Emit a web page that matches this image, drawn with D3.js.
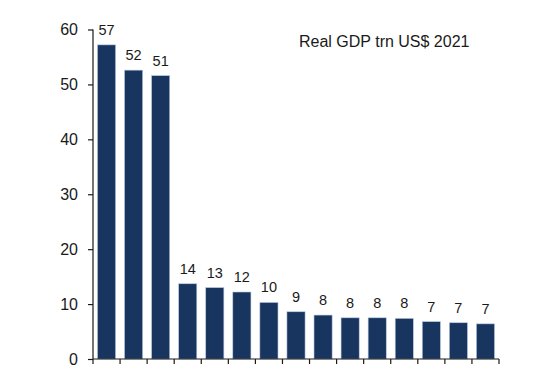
<!DOCTYPE html>
<html><head><meta charset="utf-8">
<script src="https://cdn.jsdelivr.net/npm/d3@7"></script>
<style>body{margin:0;background:#fff}svg{display:block}text{font-family:"Liberation Sans",Arial,sans-serif;fill:#1a1a1a}</style>
</head><body><svg id="c" width="555" height="370"></svg>
<script>
const categories = ["c1","c2","c3","c4","c5","c6","c7","c8","c9","c10","c11","c12","c13","c14","c15"];
const values = [57.2,52.6,51.6,13.7,13.0,12.2,10.3,8.6,8.0,7.5,7.5,7.4,6.8,6.6,6.4];
const labels = ["57","52","51","14","13","12","10","9","8","8","8","8","7","7","7"];
const yTicks = [0,10,20,30,40,50,60];
const title = "Real GDP trn US$ 2021";

const svg = d3.select("#c");
const m = {left:93, right:56, top:29.5, bottom:11};
const W = 555, H = 370;
const x = d3.scaleBand().domain(categories).range([m.left, W - m.right]).paddingInner(0.33).paddingOuter(0.165);
const y = d3.scaleLinear().domain([0,60]).range([H - m.bottom, m.top]);

svg.selectAll("rect.bar").data(values).join("rect")
  .attr("class","bar")
  .attr("x",(d,i)=>x(categories[i]))
  .attr("width",x.bandwidth())
  .attr("y",d=>y(d))
  .attr("height",d=>y(0)-y(d))
  .attr("fill","#17355f")
  .attr("stroke","#b9c8dd").attr("stroke-width",0.6);

svg.selectAll("text.lab").data(values).join("text")
  .attr("class","lab")
  .attr("x",(d,i)=>x(categories[i]) + x.bandwidth()/2)
  .attr("y",d=>y(d) - 10)
  .attr("text-anchor","middle")
  .attr("font-size","14.5px")
  .text((d,i)=>labels[i]);

// y axis
const ya = svg.append("g").attr("transform",`translate(${m.left},0)`)
  .call(d3.axisLeft(y).tickValues(yTicks).tickSize(5).tickPadding(10));
ya.selectAll("text").attr("font-size","16px").attr("fill","#1a1a1a").style("font-family","'Liberation Sans',Arial,sans-serif");
ya.selectAll("line,path").attr("stroke","#1a1a1a").attr("stroke-width",1.2);
ya.select("path").attr("d",`M0,${y(60)}V${y(0)}`);

// x axis with ticks at band boundaries
const step = x.step();
const bounds = categories.map((c,i)=>m.left + step*i).concat([W - m.right]);
const xa = svg.append("g");
xa.append("line").attr("x1",m.left).attr("x2",W-m.right).attr("y1",y(0)).attr("y2",y(0))
  .attr("stroke","#1a1a1a").attr("stroke-width",1.2);
xa.selectAll("line.t").data(bounds).join("line").attr("class","t")
  .attr("x1",d=>d).attr("x2",d=>d).attr("y1",y(0)).attr("y2",y(0)+5)
  .attr("stroke","#1a1a1a").attr("stroke-width",1.2);

svg.append("text").attr("x",299).attr("y",47).attr("font-size","16px").text(title);
</script></body></html>
